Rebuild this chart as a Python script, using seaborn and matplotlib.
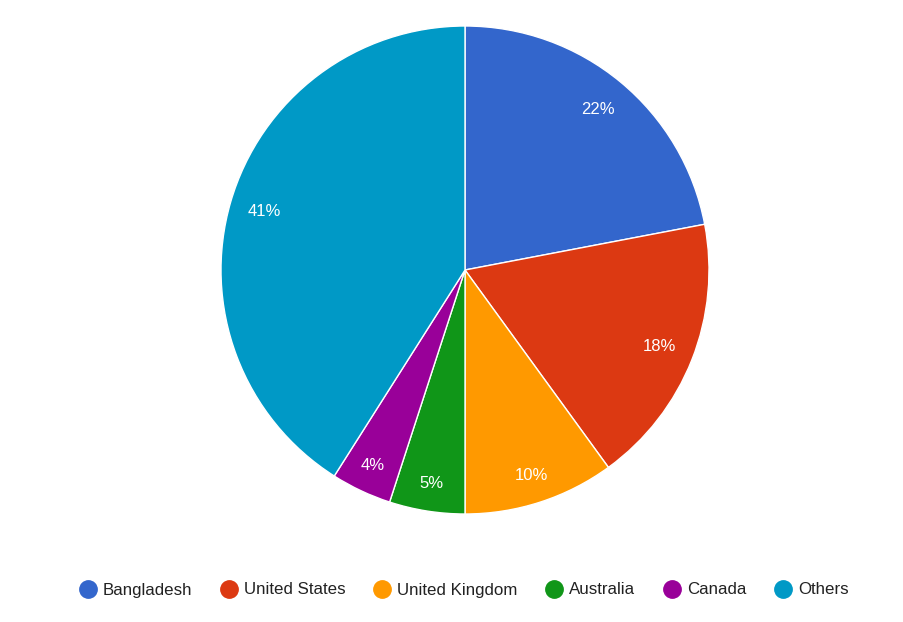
import matplotlib
matplotlib.use("Agg")
import matplotlib.pyplot as plt
from matplotlib.lines import Line2D
import seaborn as sns

# DATA
countries = ["Bangladesh", "United States", "United Kingdom", "Australia", "Canada", "Others"]
shares = [22, 18, 10, 5, 4, 41]
palette = ["#3366cc", "#dc3912", "#ff9900", "#109618", "#990099", "#0099c6"]

sns.set_theme(style="white")
plt.rcParams["font.family"] = ["Liberation Sans", "DejaVu Sans"]
colors_ = sns.color_palette(palette)

fig = plt.figure(figsize=(9.04, 6.22), dpi=100)
ax = fig.add_axes([221 / 904, 108 / 622, 488 / 904, 488 / 622])

wedges, texts, autotexts = ax.pie(
    shares, colors=colors_, startangle=90, counterclock=False,
    autopct="%1.0f%%", pctdistance=0.855, radius=1,
    wedgeprops=dict(edgecolor="white", linewidth=1),
    textprops=dict(color="white", fontsize=12),
)
# narrow slices get their labels pushed a bit further out
for share, t in zip(shares, autotexts):
    if share <= 10:
        x, y = t.get_position()
        t.set_position((x * 0.885 / 0.855, y * 0.885 / 0.855))
ax.set_xlim(-1, 1)
ax.set_ylim(-1, 1)
ax.axis("off")

handles = [Line2D([0], [0], marker="o", linestyle="", markersize=12.5,
                  markerfacecolor=c, markeredgecolor=c) for c in colors_]
fig.legend(handles, countries, loc="center", bbox_to_anchor=(464 / 904, 1 - 590 / 622),
           ncol=6, frameon=False, fontsize=12.2, handletextpad=0.4, columnspacing=1.65,
           handlelength=1.0, labelcolor="#222222")

fig.savefig("out.png", dpi=100)
